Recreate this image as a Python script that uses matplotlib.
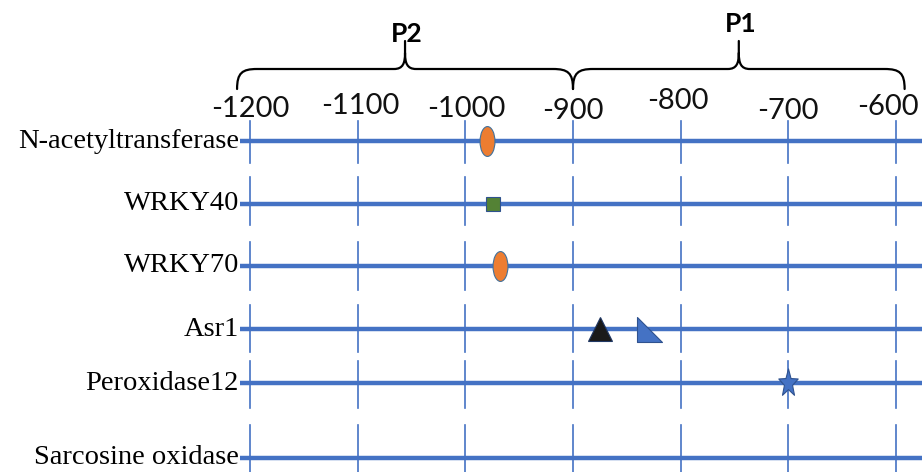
import matplotlib
matplotlib.use("Agg")
import matplotlib.pyplot as plt
from matplotlib.path import Path
from matplotlib.patches import PathPatch
from matplotlib.transforms import Affine2D

# ---------------- data ----------------
genes = ["N-acetyltransferase", "WRKY40", "WRKY70", "Asr1",
         "Peroxidase12", "Sarcosine oxidase"]
tick_positions = [-1200, -1100, -1000, -900, -800, -700, -600]
tick_labels = ["-1200", "-1100", "-1000", "-900", "-800", "-700", "-600"]

site_genes = ["N-acetyltransferase", "WRKY40", "WRKY70", "Asr1", "Asr1",
              "Peroxidase12"]
site_pos = [-980, -974, -968, -875, -829, -700]
site_kind = ["ellipse", "square", "ellipse", "triangle", "right_triangle",
             "star"]

regions = ["P2", "P1"]
region_start = [-1212, -900]
region_end = [-900, -592]

# ---------------- layout / style ----------------
W, H = 922, 472
PX_PER_UNIT = 107.67 / 100.0
X_LEFT = -1200 - 250 / PX_PER_UNIT
X_RIGHT = -600 + (W - 896) / PX_PER_UNIT
ROW_Y = [141, 204, 266, 329, 383, 458]           # pixel rows (top = 0)
SEG_UP = [20, 27, 24, 24, 22, 33]
SEG_DOWN = [22, 21, 24, 23, 25, 20]
TICK_Y = [109, 106, 109, 111, 101, 111, 107]
TICK_DX = [0, 3, 1, 0, -3, 0, -8]
BLUE = "#4472C4"
EDGE = "#2F528F"


def px(dx):
    return dx / PX_PER_UNIT


fig = plt.figure(figsize=(W / 100, H / 100), dpi=100)
ax = fig.add_axes([0, 0, 1, 1])
ax.set_xlim(X_LEFT, X_RIGHT)
ax.set_ylim(H, 0)
ax.axis("off")

line_start = -1200 - px(10)

# rows
for i, (g, y) in enumerate(zip(genes, ROW_Y)):
    ax.plot([line_start, X_RIGHT + 5], [y, y], color=BLUE, lw=3.2,
            solid_capstyle="butt", zorder=2)
    for t in tick_positions:
        ax.plot([t, t], [y - SEG_UP[i], y + SEG_DOWN[i]], color=BLUE,
                lw=1.2, zorder=1)
    ax.text(line_start - px(1), y, g, ha="right", va="center",
            fontfamily="Liberation Serif", fontsize=20.5, color="black")

# tick labels
for t, lab, ty, dx in zip(tick_positions, tick_labels, TICK_Y, TICK_DX):
    ax.text(t + px(dx), ty, lab, ha="center", va="center", fontfamily="Lato",
            fontsize=21, color="#111111")

# markers
ellipse_m = Path.unit_circle().transformed(Affine2D().scale(0.5, 1.0))
right_tri = Path([(-1, 1), (-1, -1), (1, -1), (-1, 1)],
                 [Path.MOVETO, Path.LINETO, Path.LINETO, Path.CLOSEPOLY])
star_m = Path.unit_regular_star(5, 0.42).transformed(Affine2D().scale(0.7, 1.0))

styles = {
    "ellipse": dict(marker=ellipse_m, ms=21.5, mfc="#ED7D31", mec="#41719C",
                    mew=0.8),
    "square": dict(marker="s", ms=9.5, mfc="#548235", mec=EDGE, mew=0.8),
    "triangle": dict(marker="^", ms=17.5, mfc="#1a1a1a", mec="#203864",
                     mew=0.8),
    "right_triangle": dict(marker=right_tri, ms=18, mfc=BLUE, mec=EDGE,
                           mew=0.8),
    "star": dict(marker=star_m, ms=21, mfc=BLUE, mec=EDGE, mew=0.8),
}

for g, p, k in zip(site_genes, site_pos, site_kind):
    y = ROW_Y[genes.index(g)]
    ax.plot([p], [y], linestyle="none", zorder=5, **styles[k])


# braces
def draw_brace(x0, x1, y_end=89, y_bar=69, y_tip=41):
    xm = (x0 + x1) / 2
    r = px(20)
    rt = px(11)
    verts = [
        (x0, y_end),
        (x0, y_bar + 4), (x0 + px(5), y_bar), (x0 + r, y_bar),
        (xm - rt, y_bar),
        (xm - px(2), y_bar), (xm, y_bar - 6), (xm, y_bar - 16),
        (xm, y_tip),
        (xm, y_bar - 16),
        (xm, y_bar - 6), (xm + px(2), y_bar), (xm + rt, y_bar),
        (x1 - r, y_bar),
        (x1 - px(5), y_bar), (x1, y_bar + 4), (x1, y_end),
    ]
    codes = [Path.MOVETO,
             Path.CURVE4, Path.CURVE4, Path.CURVE4,
             Path.LINETO,
             Path.CURVE4, Path.CURVE4, Path.CURVE4,
             Path.LINETO,
             Path.MOVETO,
             Path.CURVE4, Path.CURVE4, Path.CURVE4,
             Path.LINETO,
             Path.CURVE4, Path.CURVE4, Path.CURVE4]
    ax.add_patch(PathPatch(Path(verts, codes), fill=False, lw=1.6,
                           edgecolor="black", capstyle="round", zorder=3))


label_y = {"P2": 34, "P1": 24}
for name, s, e in zip(regions, region_start, region_end):
    draw_brace(s, e)
    ax.text((s + e) / 2 + px(2), label_y[name], name, ha="center",
            va="center", fontfamily="Lato", fontweight="bold", fontsize=19,
            color="black")

fig.savefig("out.png", dpi=100)
